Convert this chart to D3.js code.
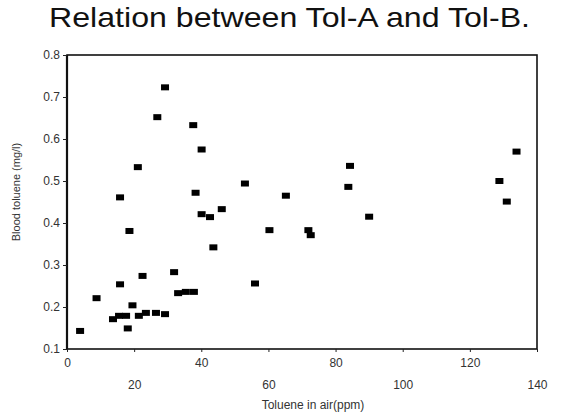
<!DOCTYPE html>
<html lang="en">
<head>
<meta charset="UTF-8">
<title>Relation between Tol-A and Tol-B.</title>
<style>
  html, body { margin: 0; padding: 0; background: #fff; }
  #chart { width: 567px; height: 417px; }
  text { font-family: "Liberation Sans", Arial, sans-serif; }
</style>
</head>
<body>
<div id="chart"></div>
<script src="https://d3js.org/d3.v7.min.js"></script>
<script>
// toluene in air (ppm) vs blood toluene (mg/l)
const airPpm = [
  3.9, 8.8, 13.7, 15.5, 17.6, 15.8, 15.8, 18.1, 19.5, 18.6,
  21.1, 21.4, 23.5, 22.5, 26.5, 29.2, 26.9, 29.2, 31.9, 33.1,
  35.4, 37.8, 37.6, 38.3, 40.1, 40.1, 42.6, 43.6, 46.1, 53.0,
  56.0, 60.3, 65.2, 71.9, 72.6, 83.8, 84.3, 90.0, 128.8, 131.0, 133.9
];
const bloodMgL = [
  0.143, 0.221, 0.171, 0.179, 0.179, 0.254, 0.461, 0.149, 0.204, 0.381,
  0.533, 0.179, 0.186, 0.274, 0.186, 0.183, 0.652, 0.723, 0.283, 0.233,
  0.236, 0.236, 0.633, 0.472, 0.575, 0.421, 0.414, 0.342, 0.433, 0.494,
  0.256, 0.383, 0.465, 0.383, 0.371, 0.486, 0.536, 0.415, 0.500, 0.451, 0.570
];
const xTicks = [0, 20, 40, 60, 80, 100, 120, 140];
const yTicks = [0.1, 0.2, 0.3, 0.4, 0.5, 0.6, 0.7, 0.8];

const W = 567, H = 417;
const margin = { top: 55, right: 30, bottom: 68, left: 67 };

const svg = d3.select('#chart').append('svg')
  .attr('width', W).attr('height', H);

const x = d3.scaleLinear().domain([0, 140]).range([margin.left, W - margin.right]);
const y = d3.scaleLinear().domain([0.1, 0.8]).range([H - margin.bottom, margin.top]);

svg.append('text')
  .attr('x', 49).attr('y', 27)
  .attr('font-size', 28)
  .attr('textLength', 481)
  .attr('lengthAdjust', 'spacingAndGlyphs')
  .attr('fill', '#111')
  .text('Relation between Tol-A and Tol-B.');

// frame
svg.append('rect')
  .attr('x', x(0)).attr('y', y(0.8))
  .attr('width', x(140) - x(0)).attr('height', y(0.1) - y(0.8))
  .attr('fill', 'none').attr('stroke', '#111').attr('stroke-width', 1.6);
svg.append('line')
  .attr('x1', x(0)).attr('x2', x(0)).attr('y1', y(0.8)).attr('y2', y(0.1))
  .attr('stroke', '#111').attr('stroke-width', 2.2);

// y axis
const yAxis = svg.append('g')
  .attr('transform', `translate(${x(0)},0)`)
  .call(d3.axisLeft(y).tickValues(yTicks).tickFormat(d3.format('.1f')).tickSize(4).tickPadding(3));
yAxis.select('.domain').remove();
yAxis.selectAll('line').attr('stroke', '#222');
yAxis.selectAll('text').attr('font-size', 12).attr('fill', '#333')
  .attr('font-family', '"Liberation Sans", Arial, sans-serif');

// x axis: labels alternate between two rows
const xAxis = svg.append('g')
  .attr('transform', `translate(0,${y(0.1)})`)
  .call(d3.axisBottom(x).tickValues(xTicks).tickSize(3).tickPadding(6));
xAxis.select('.domain').remove();
xAxis.selectAll('line').attr('stroke', '#222');
xAxis.selectAll('text')
  .attr('font-size', 12).attr('fill', '#333')
  .attr('font-family', '"Liberation Sans", Arial, sans-serif')
  .attr('dy', (d, i) => i % 2 ? '2.55em' : '0.71em');

svg.append('text')
  .attr('transform', `translate(20,${(y(0.8) + y(0.1)) / 2 - 10}) rotate(-90)`)
  .attr('text-anchor', 'middle')
  .attr('font-size', 11)
  .attr('fill', '#333')
  .text('Blood toluene (mg/l)');

svg.append('text')
  .attr('x', 313).attr('y', 409)
  .attr('text-anchor', 'middle')
  .attr('font-size', 12)
  .attr('fill', '#333')
  .text('Toluene in air(ppm)');

// points
const pts = airPpm.map((v, i) => ({ a: v, b: bloodMgL[i] }));
svg.append('g').selectAll('rect')
  .data(pts)
  .enter()
  .append('rect')
  .attr('x', d => x(d.a) - 4)
  .attr('y', d => y(d.b) - 3)
  .attr('width', 8)
  .attr('height', 6)
  .attr('fill', '#000');
</script>
</body>
</html>
